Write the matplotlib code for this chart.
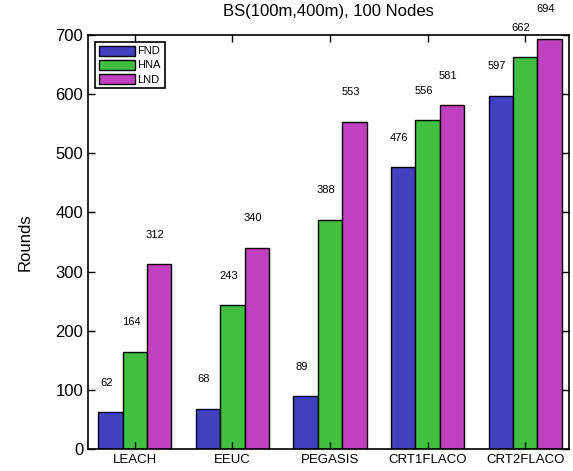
import matplotlib.pyplot as plt
import numpy as np

plt.rcParams['font.family'] = ['Liberation Sans', 'DejaVu Sans']

protocolos = ['LEACH', 'EEUC', 'PEGASIS', 'CRT1FLACO', 'CRT2FLACO']
fnd = [62, 68, 89, 476, 597]
hna = [164, 243, 388, 556, 662]
lnd = [312, 340, 553, 581, 694]

series = [('FND', fnd, '#4141BF'), ('HNA', hna, '#41BF41'), ('LND', lnd, '#BF41BF')]

fig = plt.figure(figsize=(5.73, 4.71), dpi=100)
ax = fig.add_axes([88/573, 22/471, 481/573, 414/471])

x = np.arange(1, len(protocolos) + 1)
ancho = 0.25
for i, (nombre, valores, color) in enumerate(series):
    pos = x + (i - 1) * ancho
    ax.bar(pos, valores, ancho, color=color, edgecolor='black', linewidth=1.0, label=nombre)
    ## etiquetas con el valor encima de cada barra
    for p, v in zip(pos, valores):
        ax.text(p - 0.04, v + 50, str(v), ha='center', va='center', fontsize=8)

ax.set_xlim(0.52, 5.45)
ax.set_ylim(0, 700)
ax.set_xticks(x)
ax.set_xticklabels(protocolos, fontsize=9.5)
ax.set_yticks(np.arange(0, 701, 100))
ax.tick_params(axis='y', labelsize=12)
ax.tick_params(direction='in', top=True, right=True, length=5, width=1)
ax.set_ylabel('Rounds', fontsize=12, labelpad=16)
ax.set_title('BS(100m,400m), 100 Nodes', fontsize=12, pad=14)
for s in ax.spines.values():
    s.set_linewidth(1.2)

leg = ax.legend(loc='upper left', fontsize=8, handlelength=3.3, handleheight=1.0,
                fancybox=False, framealpha=1, edgecolor='black',
                borderpad=0.35, labelspacing=0.3, handletextpad=0.2,
                borderaxespad=0.6)
leg.get_frame().set_linewidth(1.2)

plt.savefig('out.png', dpi=100)
